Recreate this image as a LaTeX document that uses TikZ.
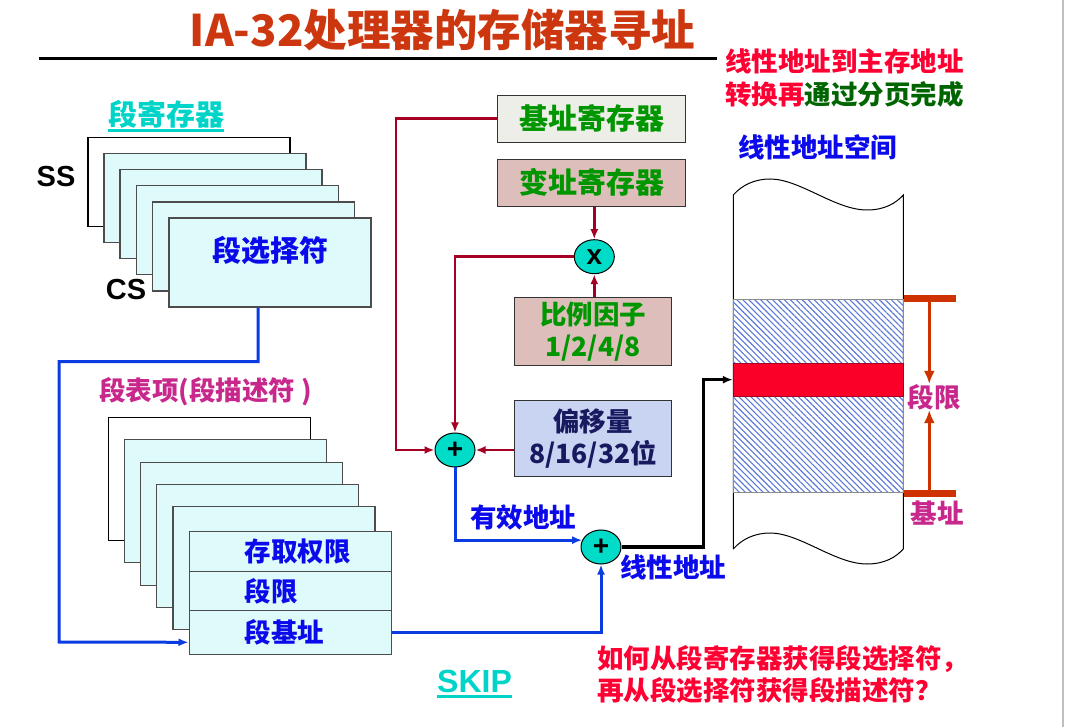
\documentclass[tikz,border=0pt]{standalone}
\usepackage{fontspec}
\setmainfont{Noto Sans CJK SC}
\newfontfamily\arialfont{Liberation Sans}
\usetikzlibrary{arrows.meta,positioning,shapes.geometric,patterns.meta}
\definecolor{titlered}{RGB}{205,55,15}
\definecolor{alertred}{RGB}{255,0,51}
\definecolor{pagegreen}{RGB}{0,100,0}
\definecolor{boxgreen}{RGB}{0,150,0}
\definecolor{labelblue}{RGB}{10,10,235}
\definecolor{labelmag}{RGB}{200,40,140}
\definecolor{turq}{RGB}{0,212,200}
\definecolor{wireblue}{RGB}{10,60,225}
\definecolor{wirered}{RGB}{165,0,35}
\definecolor{addfill}{RGB}{0,220,200}
\definecolor{cyanbg}{RGB}{222,250,250}
\definecolor{pinkbg}{RGB}{222,190,186}
\definecolor{graybg}{RGB}{238,238,232}
\definecolor{offsetbg}{RGB}{200,212,242}
\definecolor{navytext}{RGB}{25,25,95}
\definecolor{limorange}{RGB}{205,50,0}
\definecolor{hitred}{RGB}{250,0,40}
\definecolor{hatchblue}{RGB}{90,120,215}
\newcommand{\labelfont}{\bfseries\fontsize{26.5}{32}\selectfont}
\newcommand{\bigfont}{\bfseries\fontsize{29}{34}\selectfont}
\tikzset{
  regbox/.style={draw=black!70, line width=1.1pt, fill=cyanbg,
    minimum width=202pt, minimum height=89pt, inner sep=0pt},
  regback/.style={regbox, draw=black, fill=white},
  descbox/.style={regbox, minimum height=123pt},
  descback/.style={descbox, draw=black, fill=white},
  descrow/.style={regbox, minimum width=202.5pt, minimum height=#1},
  cjklabel/.style={font=\labelfont, inner sep=0pt},
  bluelabel/.style={cjklabel, text=labelblue},
  maglabel/.style={cjklabel, text=labelmag},
  latinlabel/.style={font=\arialfont\bfseries\fontsize{29}{34}\selectfont, inner sep=0pt},
  midbox/.style={draw=black!80, line width=1.1pt, minimum width=188pt,
    minimum height=47pt, inner sep=0pt, font=\bigfont, text=boxgreen},
  factorbox/.style={draw=black!80, line width=1.1pt, fill=pinkbg, minimum width=157pt,
    minimum height=68pt, inner sep=0pt, align=center, font=\labelfont, text=boxgreen},
  adder/.style={ellipse, draw=black, line width=1pt, fill=addfill, minimum width=40pt,
    minimum height=34pt, inner sep=0pt, font=\arialfont\bfseries\fontsize{28}{28}\selectfont},
  redwire/.style={draw=wirered, line width=2.6pt, -{Latex[length=10pt,width=8pt]}},
  bluewire/.style={draw=wireblue, line width=3pt, -{Latex[length=10pt,width=8pt]}},
  linwire/.style={draw=black, line width=3.5pt, -{Latex[length=10pt,width=8pt]}},
  hatchseg/.style={draw=black!45, line width=0.8pt, minimum width=170pt, inner sep=0pt,
    pattern={Lines[angle=-45,distance=4.2pt,line width=1.1pt]}, pattern color=hatchblue},
  hitbox/.style={draw=wirered, line width=1pt, fill=hitred, minimum width=170pt,
    minimum height=32.7pt, inner sep=0pt},
  colline/.style={draw=black, line width=1pt},
  limbar/.style={draw=limorange, line width=7pt},
  limarrow/.style={draw=limorange, line width=3pt, -{Latex[length=13pt,width=11pt]}}
}
\begin{document}
\begin{tikzpicture}[x=1pt,y=-1pt]
\useasboundingbox (0,0) rectangle (1072,727);
% title
\node[font=\bfseries\fontsize{43.5}{48}\selectfont, text=titlered, inner sep=0pt] (title) at (442.5,30) {IA-32处理器的存储器寻址};
\draw[line width=2.7pt] (39,58.5) -- (717,58.5);
\node[cjklabel, anchor=west, align=left, font=\bfseries\fontsize{26.5}{33}\selectfont] (pagenote) at (725,78.5)
  {\textcolor{alertred}{线性地址到主存地址}\\\textcolor{alertred}{转换再}\textcolor{pagegreen}{通过分页完成}};
\draw[black!25, line width=2pt] (1063,0) -- (1063,727);

% segment registers
\node[cjklabel, font=\bigfont, text=turq] (regtitle) at (166,114) {段寄存器};
\draw[turq, line width=2.5pt] ([yshift=-2pt]regtitle.south west) -- ([yshift=-2pt]regtitle.south east);
\node[regback] (r1) at (189,182) {};
\node[regbox] (r2) at (205,198) {};
\node[regbox] (r3) at (221,214) {};
\node[regbox] (r4) at (237.5,230) {};
\node[regbox] (r5) at (253.5,246.5) {};
\node[regbox] (r6) at (270,262.5) {};
\node[bluelabel, font=\bigfont] (seltext) at ([yshift=12pt]r6.center) {段选择符};
\node[latinlabel] (ss) at (56,177) {SS};
\node[latinlabel] (cs) at (126,290) {CS};

% descriptor
\node[maglabel, anchor=west] (desctitle) at (99,392) {段表项(段描述符 )};
\node[descback] (d1) at (209.5,479) {};
\node[descbox] (d2) at (225.5,501) {};
\node[descbox] (d3) at (241.7,523.7) {};
\node[descbox] (d4) at (257.8,546) {};
\node[descbox] (d5) at (274,568.3) {};
\node[descrow=40pt] (accrow) at (290.3,551.3) {};
\node[descrow=39pt] (limrow) at (290.3,590.8) {};
\node[descrow=44pt] (baserow) at (290.3,632.3) {};
\node[bluelabel, anchor=west] (acctext) at ([xshift=56pt]accrow.west) {存取权限};
\node[bluelabel, anchor=west] (limtext2) at ([xshift=56pt]limrow.west) {段限};
\node[bluelabel, anchor=west] (basetext2) at ([xshift=56pt]baserow.west) {段基址};
\draw[bluewire] ([xshift=-12pt]r6.south) -- ++(0,54) -| (59,642) -- ([yshift=-10pt]baserow.west);

% address arithmetic
\node[midbox, fill=graybg] (basereg) at (591.7,118.7) {基址寄存器};
\node[midbox, fill=pinkbg] (idxreg) at (591.7,182.7) {变址寄存器};
\node[adder] (mul) at (594.3,256.7) {x};
\node[factorbox] (scale) at (593,331.5) {比例因子\\1/2/4/8};
\node[factorbox, fill=offsetbg, text=navytext, minimum height=75.7pt] (offset) at (593,438.8) {偏移量\\8/16/32位};
\node[adder] (add1) at (455,450) {+};
\node[adder] (add2) at (601,547) {+};
\draw[redwire] (mul.north |- idxreg.south) -- (mul.north);
\draw[redwire] (mul.south |- scale.north) -- (mul.south);
\draw[redwire] (mul.west) -| (add1.north);
\draw[redwire] (basereg.west) -- ++(-101,0) |- (add1.west);
\draw[redwire] (offset.west |- add1.east) -- (add1.east);
\draw[bluewire] (add1.south) |- (add2.160);
\draw[bluewire] (baserow.east) -| (add2.south);
\node[bluelabel, anchor=west] (eaddr) at (470,517) {有效地址};
\node[bluelabel, anchor=west] (laddr) at (620,567) {线性地址};

% linear address space
\node[bluelabel] (spacetitle) at (817.5,147) {线性地址空间};
\draw[colline] (733.3,549) -- (733.3,195) .. controls (742,185) and (755,179) .. (770,179)
  .. controls (800,179) and (835,210) .. (867,210) .. controls (885,210) and (896,203) .. (903.3,195) -- (903.3,549);
\draw[colline] (733.3,549) .. controls (742,539) and (755,533) .. (770,533)
  .. controls (800,533) and (835,564) .. (867,564) .. controls (885,564) and (896,557) .. (903.3,549);
\node[hatchseg, minimum height=64.3pt] (segtop) at (818.3,331.2) {};
\node[hatchseg, minimum height=96.7pt] (segbot) at (818.3,444.4) {};
\node[hitbox] (hit) at (818.3,379.7) {};
\draw[linwire] (add2.east) -- ++(82,0) |- (hit.west);
\draw[limbar] (segtop.north east) -- ++(52,0);
\draw[limbar] (segbot.south east) -- ++(52,0);
\coordinate (limtop) at (929.3,299.3);
\coordinate (limbot) at (929.3,493.3);
\node[maglabel] (limtext) at (934,397) {段限};
\node[maglabel] (basetext) at (937,513) {基址};
\draw[limarrow] (limtop) -- (limtop |- limtext.north);
\draw[limarrow] (limbot) -- (limbot |- limtext.south);

% bottom
\node[font=\arialfont\bfseries\fontsize{32}{36}\selectfont, text=turq, inner sep=0pt] (skip) at (474.5,681) {SKIP};
\draw[turq, line width=2.5pt] ([yshift=-4pt]skip.south west) -- ([yshift=-4pt]skip.south east);
\node[cjklabel, text=alertred, anchor=west, align=left, font=\bfseries\fontsize{26.5}{32}\selectfont] (question) at (597,674)
  {如何从段寄存器获得段选择符，\\再从段选择符获得段描述符？};
\end{tikzpicture}
\end{document}
